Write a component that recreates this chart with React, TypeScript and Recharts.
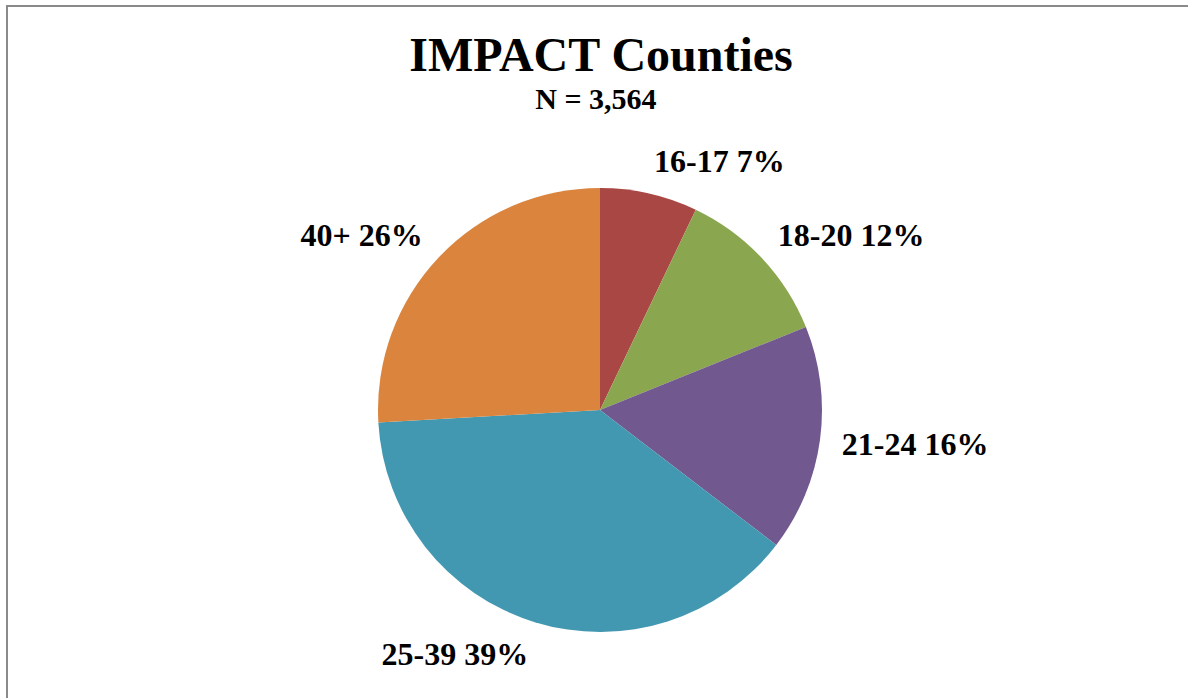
import React from "react";
import { PieChart, Pie, Cell } from "recharts";

// age groups, clockwise from 12 o'clock
const ageGroups = ["16-17", "18-20", "21-24", "25-39", "40+"];
// slice shares (sum ~100)
const shares = [7.1, 11.8, 16.5, 38.7, 25.9];
// percentages as printed on the labels
const pctLabels = ["7%", "12%", "16%", "39%", "26%"];
const sliceColors = ["#A94745", "#8AA64E", "#71588F", "#4298B0", "#DA843E"];

const RADIAN = Math.PI / 180;
const FONT = '"Liberation Serif", "Times New Roman", serif';

function renderLabel(props: any) {
  const { cx, cy, midAngle, outerRadius, index } = props;
  const r = outerRadius + 22;
  const dx = Math.cos(-midAngle * RADIAN);
  const dy = Math.sin(-midAngle * RADIAN);
  const x = cx + r * dx;
  const y = cy + r * dy;
  const anchor = dx > 0.1 ? "start" : dx < -0.1 ? "end" : "middle";
  // box above the point on the upper half, below it on the lower half
  const h = 22;
  const centerY = y + (h / 2) * dy;
  const baseline = centerY + h / 2;
  return (
    <text
      x={x}
      y={baseline}
      textAnchor={anchor}
      fontFamily={FONT}
      fontWeight="bold"
      fontSize={32}
      fill="#000"
    >
      {`${ageGroups[index]} ${pctLabels[index]}`}
    </text>
  );
}

export default function App() {
  const data = ageGroups.map((g, i) => ({ name: g, value: shares[i] }));

  return (
    <div
      style={{
        position: "absolute",
        left: 0,
        top: 0,
        width: 1188,
        height: 698,
        overflow: "hidden",
        background: "#fff",
      }}
    >
      <div
        style={{
          position: "absolute",
          left: 6,
          top: 5,
          width: 1300,
          height: 800,
          border: "2px solid #8a8a8a",
        }}
      />
      <div style={{ position: "absolute", left: 0, top: 0 }}>
        <PieChart width={1188} height={698} margin={{ top: 0, right: 0, bottom: 0, left: 0 }}>
          <Pie
            data={data}
            dataKey="value"
            nameKey="name"
            cx={600}
            cy={410}
            outerRadius={222}
            startAngle={90}
            endAngle={-270}
            stroke="none"
            label={renderLabel}
            labelLine={false}
            isAnimationActive={false}
          >
            {data.map((d, i) => (
              <Cell key={d.name} fill={sliceColors[i]} />
            ))}
          </Pie>
        </PieChart>
      </div>
      <svg
        width={1188}
        height={698}
        style={{ position: "absolute", left: 0, top: 0, pointerEvents: "none" }}
      >
        <text x={601} y={71} textAnchor="middle" fontFamily={FONT} fontWeight="bold" fontSize={48} fill="#000">
          IMPACT Counties
        </text>
        <text x={596} y={109} textAnchor="middle" fontFamily={FONT} fontWeight="bold" fontSize={30} fill="#000">
          N = 3,564
        </text>
      </svg>
    </div>
  );
}
